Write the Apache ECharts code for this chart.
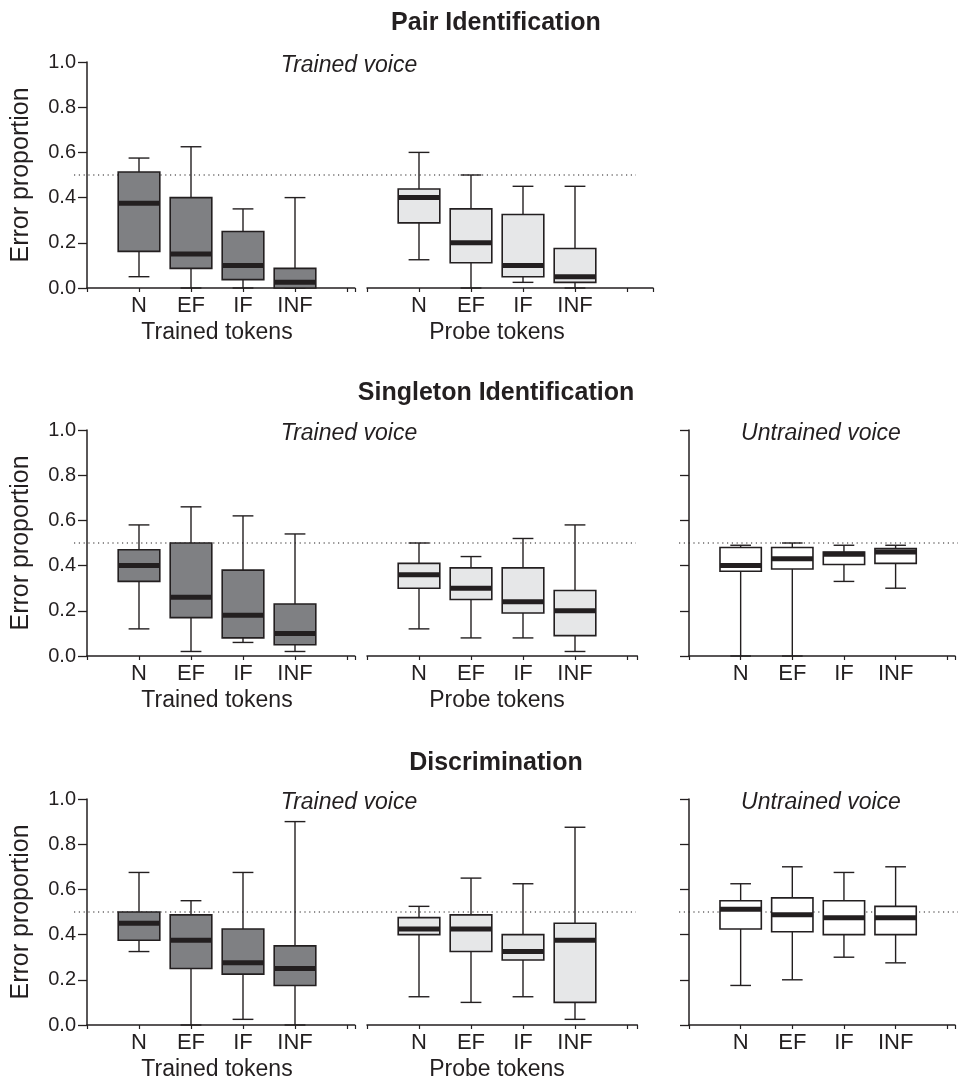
<!DOCTYPE html>
<html><head><meta charset="utf-8">
<script src="https://cdn.jsdelivr.net/npm/echarts@6/dist/echarts.min.js"></script>
<style>html,body{margin:0;padding:0;background:#fff}#c{width:958px;height:1082px}</style>
</head><body><div id="c"></div>
<script>
// ---------- DATA ----------
const categories = ['N', 'EF', 'IF', 'INF'];
const panelTitles = ['Pair Identification', 'Singleton Identification', 'Discrimination'];
const groupNames = ['Trained tokens', 'Probe tokens'];
const voiceNames = ['Trained voice', 'Untrained voice'];
const yAxisName = 'Error proportion';
const chanceLevel = 0.5;
// each box: [min, Q1, median, Q3, max]
const pairTrained = [[0.05, 0.162, 0.375, 0.513, 0.575], [0, 0.087, 0.15, 0.40, 0.625], [0, 0.037, 0.10, 0.25, 0.35], [0, 0, 0.025, 0.087, 0.40]];
const pairProbe = [[0.125, 0.288, 0.40, 0.438, 0.60], [0, 0.112, 0.20, 0.35, 0.50], [0.025, 0.05, 0.10, 0.325, 0.45], [0, 0.025, 0.05, 0.175, 0.45]];
const singTrained = [[0.12, 0.33, 0.40, 0.47, 0.58], [0.02, 0.17, 0.26, 0.50, 0.66], [0.06, 0.08, 0.18, 0.38, 0.62], [0.02, 0.05, 0.10, 0.23, 0.54]];
const singProbe = [[0.12, 0.30, 0.36, 0.41, 0.50], [0.08, 0.25, 0.30, 0.39, 0.44], [0.08, 0.19, 0.24, 0.39, 0.52], [0.02, 0.09, 0.20, 0.29, 0.58]];
const singUntrained = [[0, 0.375, 0.40, 0.48, 0.49], [0, 0.385, 0.43, 0.48, 0.50], [0.33, 0.405, 0.45, 0.46, 0.49], [0.30, 0.41, 0.46, 0.475, 0.49]];
const discTrained = [[0.325, 0.375, 0.45, 0.50, 0.675], [0, 0.25, 0.375, 0.4875, 0.55], [0.025, 0.225, 0.275, 0.425, 0.675], [0, 0.175, 0.25, 0.35, 0.90]];
const discProbe = [[0.125, 0.40, 0.425, 0.475, 0.525], [0.10, 0.325, 0.425, 0.4875, 0.65], [0.125, 0.2875, 0.325, 0.40, 0.625], [0.025, 0.10, 0.375, 0.45, 0.875]];
const discUntrained = [[0.175, 0.425, 0.5125, 0.55, 0.625], [0.20, 0.4125, 0.4875, 0.5625, 0.70], [0.30, 0.40, 0.475, 0.55, 0.675], [0.275, 0.40, 0.475, 0.525, 0.70]];

// ---------- STYLE / LAYOUT ----------
const FONT = '"Liberation Sans", Arial, Helvetica, sans-serif';
const INK = '#231f20';
const FILL_TRAINED = '#7f8083';
const FILL_PROBE = '#e6e7e8';
const FILL_UNTRAINED = '#ffffff';
const STEP = 52;
const PLOT_H = 226;
const rowTops = [62, 430, 799];

const grids = [], xAxes = [], yAxes = [], series = [], graphics = [];

function boxRenderer(fill) {
  return function (params, api) {
    const x = api.value(0);
    const c = k => api.coord([x, api.value(k)]);
    const pMin = c(1), pQ1 = c(2), pMed = c(3), pQ3 = c(4), pMax = c(5);
    const bw = api.size([1, 0])[0] * 0.8;
    const cw = bw * 0.5;
    const cx = pMed[0];
    const lw = 1.4;
    return {
      type: 'group', children: [
        { type: 'line', shape: { x1: cx, y1: pMax[1], x2: cx, y2: pMin[1] }, style: { stroke: INK, lineWidth: lw } },
        { type: 'line', shape: { x1: cx - cw / 2, y1: pMax[1], x2: cx + cw / 2, y2: pMax[1] }, style: { stroke: INK, lineWidth: lw } },
        { type: 'line', shape: { x1: cx - cw / 2, y1: pMin[1], x2: cx + cw / 2, y2: pMin[1] }, style: { stroke: INK, lineWidth: lw } },
        { type: 'rect', shape: { x: cx - bw / 2, y: pQ3[1], width: bw, height: pQ1[1] - pQ3[1] }, style: { fill: fill, stroke: INK, lineWidth: 1.6 } },
        { type: 'line', shape: { x1: cx - bw / 2, y1: pMed[1], x2: cx + bw / 2, y2: pMed[1] }, style: { stroke: INK, lineWidth: 5 } }
      ]
    };
  };
}

function addSegment(left, top, xMax, data, fill, yMode, groupName, groupTop) {
  const idx = grids.length;
  const width = xMax * STEP;
  grids.push({ left: left, top: top, width: width, height: PLOT_H });
  xAxes.push({
    type: 'value', gridIndex: idx, min: 0, max: xMax, interval: 1,
    axisLine: { show: true, lineStyle: { color: INK, width: 1.5 } },
    axisTick: { show: true, length: 4, lineStyle: { color: INK, width: 1.2 } },
    axisLabel: {
      show: true, margin: 7, color: INK, fontSize: 22, fontFamily: FONT,
      formatter: v => (Number.isInteger(v) && categories[v - 1]) ? categories[v - 1] : ''
    },
    splitLine: { show: false }
  });
  const y = {
    type: 'value', gridIndex: idx, min: 0, max: 1, interval: 0.2,
    axisLine: { show: yMode !== 'none', lineStyle: { color: INK, width: 1.5 } },
    axisTick: { show: yMode !== 'none', inside: false, length: 9, lineStyle: { color: INK, width: 1.3 } },
    axisLabel: { show: yMode === 'full', color: INK, fontSize: 20, fontFamily: FONT, margin: 11, formatter: v => v.toFixed(1) },
    splitLine: { show: false }
  };
  if (yMode === 'full') {
    y.name = yAxisName; y.nameLocation = 'middle'; y.nameGap = 53; y.nameRotate = 90;
    y.nameTextStyle = { color: INK, fontSize: 25, fontFamily: FONT };
  }
  yAxes.push(y);
  series.push({
    type: 'custom', xAxisIndex: idx, yAxisIndex: idx, silent: true,
    renderItem: boxRenderer(fill),
    encode: { x: 0, y: [1, 2, 3, 4, 5] },
    data: data.map((d, i) => [i + 1].concat(d))
  });
  if (groupName) {
    graphics.push({
      type: 'text', x: left + 2.5 * STEP, y: groupTop,
      style: { text: groupName, fill: INK, font: '23px ' + FONT, textAlign: 'center', textVerticalAlign: 'middle' }
    });
  }
}

function addRefLine(left, right, top) {
  const idx = grids.length;
  grids.push({ left: left, top: top, width: right - left, height: PLOT_H });
  xAxes.push({ type: 'value', gridIndex: idx, min: 0, max: 1, show: false });
  yAxes.push({ type: 'value', gridIndex: idx, min: 0, max: 1, show: false });
  series.push({
    type: 'line', xAxisIndex: idx, yAxisIndex: idx, silent: true, symbol: 'none', z: 1,
    lineStyle: { color: INK, width: 1.2, type: [1.2, 3.6] },
    data: [[0, chanceLevel], [1, chanceLevel]]
  });
}

function addTitle(text, x, y, font) {
  graphics.push({ type: 'text', x: x, y: y, style: { text: text, fill: INK, font: font, textAlign: 'center', textVerticalAlign: 'middle' } });
}

const rows = [
  { trained: pairTrained, probe: pairProbe, untrained: null, probeMax: 5.5 },
  { trained: singTrained, probe: singProbe, untrained: singUntrained, probeMax: 5.2 },
  { trained: discTrained, probe: discProbe, untrained: discUntrained, probeMax: 5.2 }
];
const titleY = [23, 393, 763];

rows.forEach((r, i) => {
  const top = rowTops[i];
  const bottom = top + PLOT_H;
  addRefLine(74, 636, top);
  addSegment(87, top, 5.15, r.trained, FILL_TRAINED, 'full', groupNames[0], bottom + 45);
  addSegment(367, top, r.probeMax, r.probe, FILL_PROBE, 'none', groupNames[1], bottom + 45);
  addTitle(voiceNames[0], 349, top + 4, 'italic 23px ' + FONT);
  if (r.untrained) {
    addRefLine(679, 958, top);
    addSegment(689, top, 5.15, r.untrained, FILL_UNTRAINED, 'line', null, 0);
    addTitle(voiceNames[1], 821, top + 4, 'italic 23px ' + FONT);
  }
  addTitle(panelTitles[i], 496, titleY[i], 'bold 25px ' + FONT);
});

const chart = echarts.init(document.getElementById('c'), null, { renderer: 'canvas' });
chart.setOption({
  animation: false,
  backgroundColor: '#ffffff',
  grid: grids, xAxis: xAxes, yAxis: yAxes, series: series,
  graphic: graphics
});
</script>
</body></html>
